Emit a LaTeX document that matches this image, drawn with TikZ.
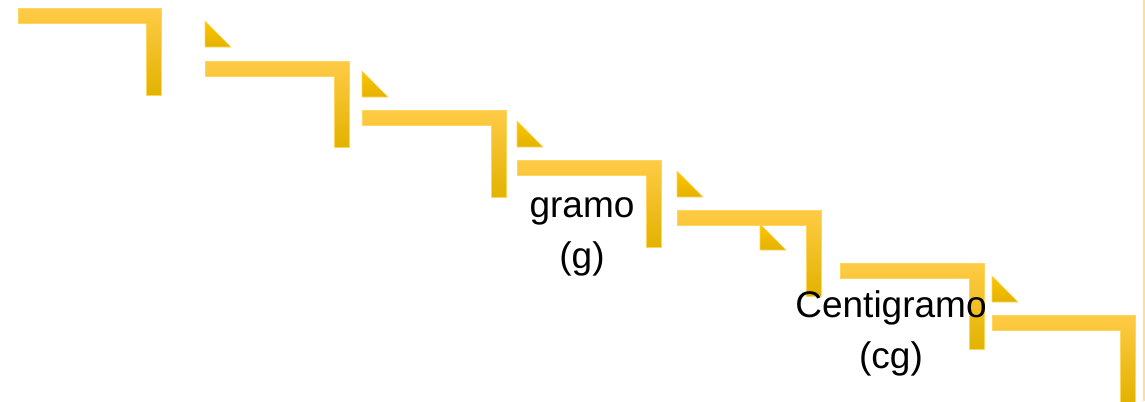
\documentclass[tikz,border=0pt]{standalone}
\usepackage{fontspec}
\setmainfont{Liberation Sans}
\usetikzlibrary{positioning}
\definecolor{goldtop}{HTML}{FFCB47}
\definecolor{goldmid}{HTML}{FFC400}
\definecolor{goldbot}{HTML}{E2B300}
\definecolor{goldedge}{HTML}{FFD65C}
\definecolor{goldline}{HTML}{FFE08A}
\tikzset{stairbar/.style={draw=goldedge,line width=0.5pt,top color=goldtop,middle color=goldmid,bottom color=goldbot}}
\tikzset{stairtip/.style={draw=goldedge,line width=0.4pt,top color=goldmid,bottom color=goldbot}}
\tikzset{unitname/.style={inner sep=0pt,text height=20pt,text depth=6pt,font=\fontsize{27.75}{33}\selectfont}}

\begin{document}
\begin{tikzpicture}[x=0.75pt,y=-0.75pt,node distance=38.25pt]
                \useasboundingbox (0,0) rectangle (1145,401);
                % steps
                \foreach \xa/\ya/\xb/\yb in {18/8/161/95,205/61/349/147,362/110/506/197,517/160/661/247,677/210/821/296,840/263/984/349,992/315/1135/402}
                    \path[stairbar] (\xa,\ya) -| (\xb,\yb) -- ++(-15,0) |- (\xa,\ya+15) -- cycle;
                % small triangles
                \foreach \xa/\ya in {205/21,362/71,517/121,677/171,760/224,992/276}
                    \path[stairtip] (\xa,\ya) -- (\xa,\ya+26) -- (\xa+26,\ya+26) -- cycle;
                \draw[goldline,line width=1pt] (1144,0) -- (1144,401);

                \node[unitname] (gramo) at (582,208) {gramo};
                \node[unitname] [below of=gramo] (g) {(g)};
                \node[unitname] (centi) at (891,308) {Centigramo};
                \node[unitname] [below of=centi] (cg) {(cg)};
            \end{tikzpicture}
\end{document}
